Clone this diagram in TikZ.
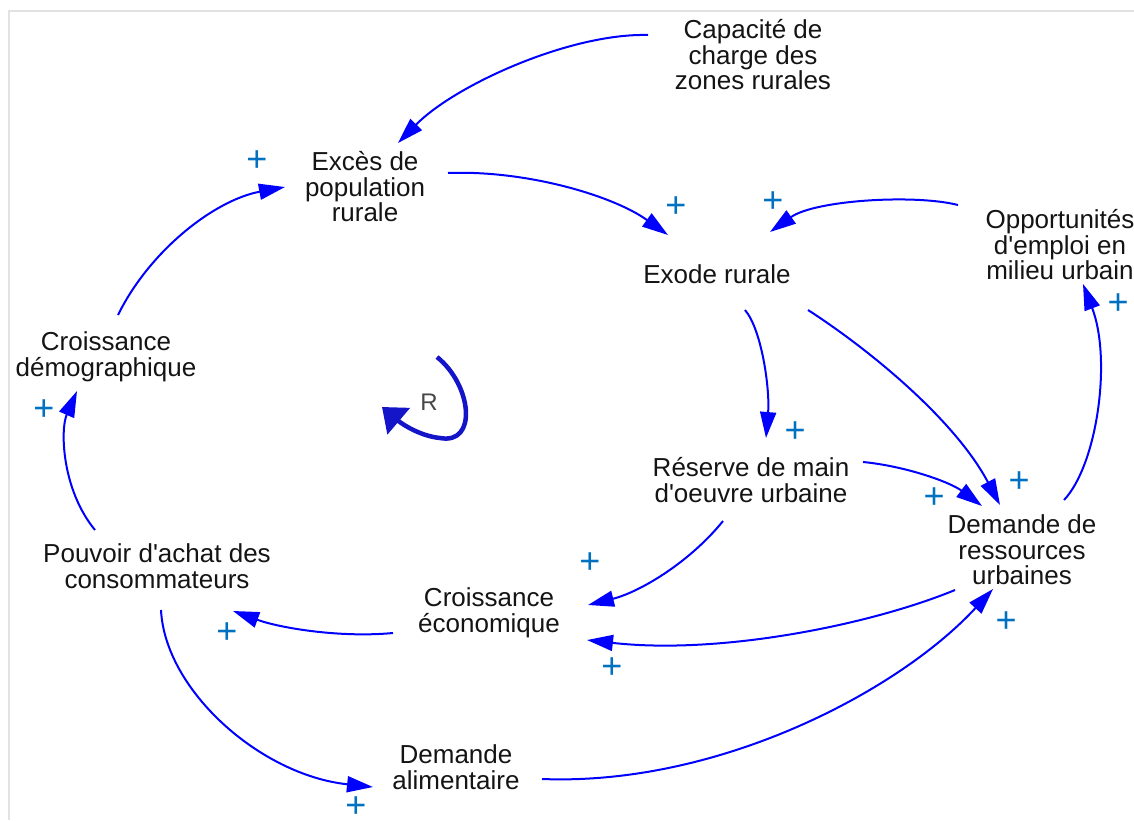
\documentclass[tikz,border=0pt]{standalone}
\usepackage{fontspec}
\setmainfont{Liberation Sans}[Ligatures=TeXOff]
\usetikzlibrary{arrows.meta,calc}
\definecolor{linkblue}{RGB}{0,0,255}
\definecolor{loopblue}{RGB}{20,20,200}
\definecolor{signblue}{RGB}{0,112,192}
\definecolor{framegray}{RGB}{226,226,226}
\begin{document}
\begin{tikzpicture}[x=1pt,y=-1pt,
  var/.style={align=center, inner sep=0pt, text=black!92,
    font=\fontsize{26}{25.5}\selectfont},
  link/.style={draw=linkblue, line width=2pt,
    -{Triangle[length=26pt,width=16pt]}},
  sign/.style={text=signblue, inner sep=0pt, font=\fontsize{36}{36}\selectfont},
  looplabel/.style={text=black!72, inner sep=0pt, font=\fontsize{24}{24}\selectfont},
  looparrow/.style={draw=loopblue, line width=4.5pt,
    -{Triangle[length=22pt,width=34pt]}}]
\useasboundingbox (0,0) rectangle (1134,820);

% frame
\draw[framegray, line width=2pt] (8.5,820) -- (8.5,10.5) -- (1134,10.5);

% variables
\node[var] (cap)  at (753,55)  {Capacité de\\charge des\\zones rurales};
\node[var] (exc)  at (365,187) {Excès de\\population\\rurale};
\node[var] (exo)  at (717,274) {Exode rurale};
\node[var] (opp)  at (1060,245) {Opportunités\\d'emploi en\\milieu urbain};
\node[var] (dem)  at (106,357) {Croissance\\démographique};
\node[var] (res)  at (751,480) {Réserve de main\\d'oeuvre urbaine};
\node[var] (ress) at (1022,550) {Demande de\\ressources\\urbaines};
\node[var] (pou)  at (157,566) {Pouvoir d'achat des\\consommateurs};
\node[var] (eco)  at (489,613) {Croissance\\économique};
\node[var] (ali)  at (456,767) {Demande\\alimentaire};

% causal links
\draw[link] ($(cap)+(-105,-20)$) .. controls (570,33) and (455,85) .. ($(exc)+(33,-44)$);
\draw[link] ($(exc)+(83,-14)$) .. controls (525,170) and (612,195) .. ($(exo)+(-49,-39)$);
\draw[link] ($(opp)+(-102,-40)$) .. controls (915,194) and (815,200) .. ($(exo)+(53,-42)$);
\draw[link] ($(exo)+(28,36)$) .. controls (762,330) and (770,390) .. ($(res)+(15,-42)$);
\draw[link] ($(exo)+(91,36)$) .. controls (870,350) and (955,420) .. ($(ress)+(-22,-45)$);
\draw[link] ($(res)+(112,-18)$) .. controls (905,466) and (950,482) .. ($(ress)+(-40,-44)$);
\draw[link] ($(ress)+(42,-50)$) .. controls (1097,465) and (1112,360) .. ($(opp)+(23,39)$);
\draw[link] ($(res)+(-28,41)$) .. controls (690,562) and (640,592) .. ($(eco)+(99,-8)$);
\draw[link] ($(ress)+(-67,40)$) .. controls (870,625) and (720,655) .. ($(eco)+(98,27)$);
\draw[link] ($(ali)+(86,12)$) .. controls (720,786) and (900,690) .. ($(ress)+(-29,39)$);
\draw[link] ($(eco)+(-96,20)$) .. controls (340,638) and (280,628) .. ($(pou)+(76,45)$);
\draw[link] ($(pou)+(4,44)$) .. controls (165,690) and (260,775) .. ($(ali)+(-83,20)$);
\draw[link] ($(pou)+(-62,-36)$) .. controls (62,490) and (60,430) .. ($(dem)+(-29,34)$);
\draw[link] ($(dem)+(12,-42)$) .. controls (150,250) and (215,200) .. ($(exc)+(-80,0)$);

% polarity signs
\node[sign] (p1)  at (257,161) {+};
\node[sign] (p2)  at (676,207) {+};
\node[sign] (p3)  at (773,202) {+};
\node[sign] (p4)  at (795,432) {+};
\node[sign] (p5)  at (1019,482) {+};
\node[sign] (p6)  at (934,498) {+};
\node[sign] (p7)  at (1006,622) {+};
\node[sign] (p8)  at (1118,304) {+};
\node[sign] (p9)  at (590,563) {+};
\node[sign] (p10) at (612,668) {+};
\node[sign] (p11) at (227,633) {+};
\node[sign] (p12) at (356,807) {+};
\node[sign] (p13) at (44,410) {+};

% reinforcing loop marker
\node[looplabel] (R) at (429,402) {R};
\draw[looparrow] ($(R)+(8,-45)$) .. controls (472,385) and (478,445) .. (440,438)
  .. controls (420,436) and (402,424) .. ($(R)+(-47,5)$);
\end{tikzpicture}
\end{document}
